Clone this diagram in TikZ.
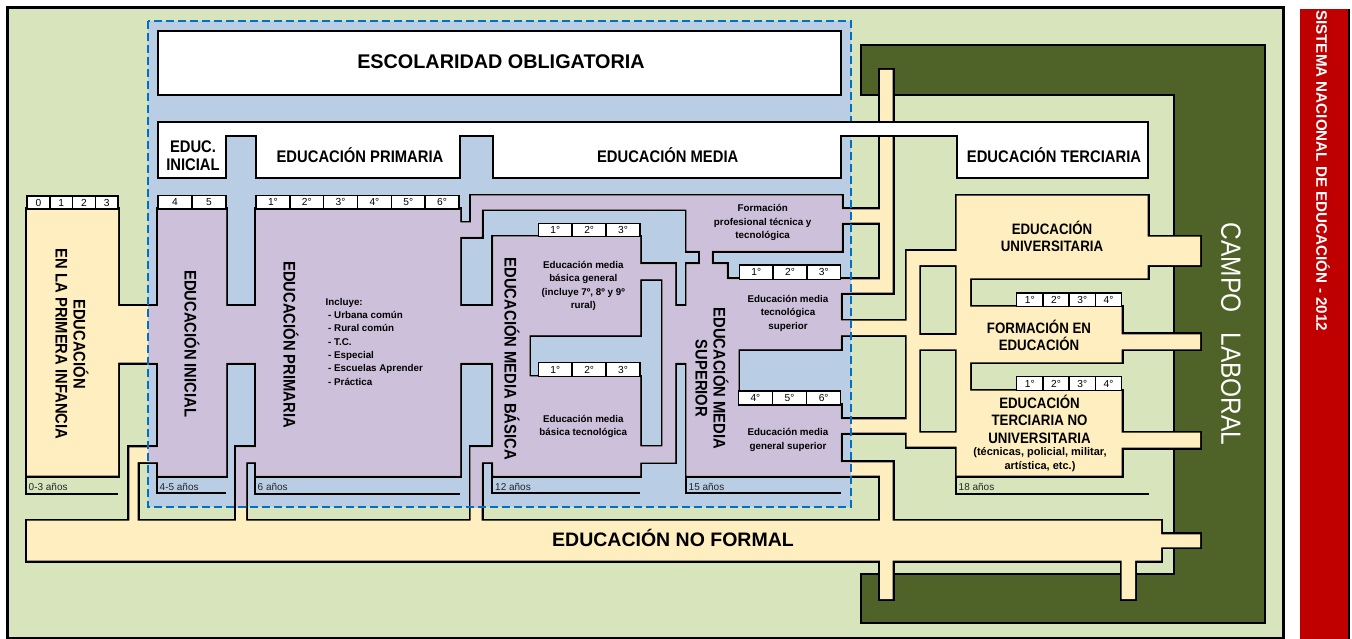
\documentclass[tikz,border=0pt]{standalone}
\usepackage{fontspec}
\usepackage{graphicx}
\setmainfont{Liberation Sans}
\newfontfamily\narrowsans[FakeStretch=0.88]{Liberation Sans}
\definecolor{bggreen}{HTML}{D8E4BC}
\definecolor{blu}{HTML}{B9CDE5}
\definecolor{purp}{HTML}{CCC0DA}
\definecolor{yel}{HTML}{FFEFC0}
\definecolor{dgreen}{HTML}{4F6228}
\definecolor{redbar}{HTML}{C00000}
\definecolor{dashblue}{HTML}{0070C0}
\newcommand\unionshape{%
 (27,209) rectangle (118,475.7)
 (118,306) rectangle (256,362.5)
 (158,209) rectangle (226,475.7)
 (129.3,447.3) rectangle (158,462)
 (129.3,447.3) rectangle (137.7,520.7)
 (256,209) rectangle (460,475.7)
 (236,447.3) rectangle (256,462)
 (236,447.3) rectangle (246,520.7)
 (459,222.7) rectangle (481.7,236.7)
 (471,195.7) rectangle (481.7,236.7)
 (471,195.7) rectangle (841.7,209.3)
 (460,306) rectangle (493.3,362.5)
 (493.3,236.7) rectangle (529.3,475.7)
 (493.3,236.7) rectangle (640,335)
 (493.3,376.7) rectangle (640,475.7)
 (640,264.3) rectangle (675,279)
 (662.7,264.3) rectangle (675,462.3)
 (640,446.7) rectangle (675,462.3)
 (470.7,447.3) rectangle (493.3,462)
 (470.7,447.3) rectangle (481.7,520.7)
 (675,306) rectangle (686.7,362.5)
 (686.7,209.3) rectangle (841.7,250.7)
 (700,250.7) rectangle (711.7,264.3)
 (686.7,264.3) rectangle (726.7,279.3)
 (686.7,279.3) rectangle (840.7,349)
 (686.7,349) rectangle (738.3,405)
 (686.7,405) rectangle (840.7,475.7)
 (841.7,209.3) rectangle (880,222.7)
 (880,70) rectangle (892.7,292.7)
 (840.7,279.3) rectangle (880,292.7)
 (840.7,320.7) rectangle (906.7,335)
 (840.7,419.3) rectangle (906.7,432.7)
 (840.7,462.3) rectangle (892.7,475.7)
 (880,462.3) rectangle (892.7,599)
 (27,520.7) rectangle (1161,560.7)
 (1161,534.3) rectangle (1200,547.3)
 (1121.7,560.7) rectangle (1135,599)
 (956.7,195.7) rectangle (1147.7,278.3)
 (1147.7,236.7) rectangle (1200,265)
 (956.7,278.3) rectangle (970,475.7)
 (956.7,306.7) rectangle (1121.7,362.3)
 (1121.7,334.3) rectangle (1200,349.3)
 (956.7,390.7) rectangle (1121.7,475.7)
 (1121.7,432.7) rectangle (1200,447.7)
 (906.7,251) rectangle (919.3,446.7)
 (906.7,251) rectangle (956.7,265)
 (919.3,335) rectangle (956.7,349.3)
 (906.7,432.7) rectangle (956.7,446.7)
}
% #1 name, #2 n, #3 x0, #4 x1, #5 y0, #6 y1, #7 labels
\newcommand\gradesrow[7]{%
  \foreach \lab [count=\i] in {#7} {
    \pgfmathsetmacro\xa{#3+(#4-#3)*(\i-1)/#2}
    \pgfmathsetmacro\xb{#3+(#4-#3)*\i/#2}
    \draw[gbox] (\xa,#5) rectangle (\xb,#6);
    \node[grade] (#1\i) at ({(\xa+\xb)/2},{(#5+#6)/2}) {\lab};
  }
}
\begin{document}
\begin{tikzpicture}[x=1pt,y=-1pt,
  outl/.style={draw=black,line width=2pt,line join=miter},
  gbox/.style={fill=white,draw=black,line width=1.5pt},
  grade/.style={font=\fontsize{10.2}{11}\selectfont,inner sep=0pt},
  lab/.style={font=\narrowsans\bfseries\fontsize{16.8}{18}\selectfont,inner sep=0pt,align=center},
  ter/.style={font=\narrowsans\bfseries\fontsize{15.1}{16.9}\selectfont,inner sep=0pt,align=center},
  sm/.style={font=\bfseries\fontsize{9.8}{13.3}\selectfont,inner sep=0pt,align=center},
  anos/.style={font=\fontsize{10}{11}\selectfont,text=black!85,inner sep=0pt,anchor=west}]
\useasboundingbox (0,0) rectangle (1352,639);
\fill[white] (0,0) rectangle (1352,639);
\fill[bggreen] (7.5,7.5) rectangle (1283.7,638);
\fill[blu] (148,21) rectangle (851,507);
% campo laboral frame
\draw[outl,fill=dgreen] (860.7,45.3) -- (1265,45.3) -- (1265,622.7) -- (860.7,622.7) -- (860.7,574) -- (1174,574) -- (1174,95) -- (860.7,95) -- cycle;
% system shapes (union outline)
\draw[line width=4pt,line join=miter] \unionshape;
\fill[yel] \unionshape;
\begin{scope}
  \clip (148,21) rectangle (851,507);
  \fill[purp] \unionshape;
\end{scope}
% dashed compulsory schooling frame
\draw[dashblue,line width=2.5pt,dash pattern=on 8pt off 4pt] (148,21) rectangle (851,507);
% white boxes
\draw[outl,fill=white] (158,31) rectangle (841,95);
\draw[outl,fill=white] (158,122) -- (1148,122) -- (1148,178) -- (957,178) -- (957,136) -- (841,136) -- (841,178) -- (493,178) -- (493,136) -- (460,136) -- (460,178) -- (256,178) -- (256,136) -- (226,136) -- (226,178) -- (158,178) -- cycle;
% age strips
\draw[outl] (26,475.7) -- (26,494) -- (118,494);
\draw[outl] (157,475.7) -- (157,493.3) -- (226,493.3);
\draw[outl] (255,475.7) -- (255,494) -- (460,494);
\draw[outl] (492.3,475.7) -- (492.3,493.3) -- (640,493.3);
\draw[outl] (685.7,475.7) -- (685.7,493.3) -- (840.7,493.3);
\draw[outl] (955.7,475.7) -- (955.7,494) -- (1149,494);
\node[anos] (a03) at (28.5,486.5) {0-3 años};
\node[anos] (a45) at (159.5,486.5) {4-5 años};
\node[anos] (a6) at (257.5,486.5) {6 años};
\node[anos] (a12) at (495,486.5) {12 años};
\node[anos] (a15) at (688.5,486.5) {15 años};
\node[anos] (a18) at (958.5,486.5) {18 años};
% grade rows
\gradesrow{pi}{4}{27}{118}{196}{209}{0,1,2,3}
\gradesrow{in}{2}{158}{226}{195.7}{209}{4,5}
\gradesrow{pr}{6}{256}{459}{195.7}{209}{1°,2°,3°,4°,5°,6°}
\gradesrow{mbg}{3}{538.3}{640}{223.3}{236.7}{1°,2°,3°}
\gradesrow{mbt}{3}{538.3}{640}{362.7}{376.7}{1°,2°,3°}
\gradesrow{mst}{3}{739.3}{840.7}{265}{279.3}{1°,2°,3°}
\gradesrow{msg}{3}{738.3}{840.7}{391}{405}{4°,5°,6°}
\gradesrow{fe}{4}{1016.7}{1121.7}{293}{306.7}{1°,2°,3°,4°}
\gradesrow{tn}{4}{1016.7}{1121.7}{376.7}{390.7}{1°,2°,3°,4°}
% headings
\node[font=\bfseries\fontsize{19.8}{22}\selectfont,inner sep=0pt,anchor=base] (escol) at (501,69) {ESCOLARIDAD OBLIGATORIA};
\node[lab] (educini) at (193,156.2) {EDUC.\\INICIAL};
\node[lab,anchor=base] (tprim) at (360,162.3) {EDUCACIÓN PRIMARIA};
\node[lab,anchor=base] (tmed) at (667.7,162.3) {EDUCACIÓN MEDIA};
\node[lab,anchor=base] (tter) at (1054,162.3) {EDUCACIÓN TERCIARIA};
% vertical labels
\node[lab,rotate=-90] (vpi) at (72,344) {EDUCACIÓN\\EN LA PRIMERA INFANCIA};
\node[lab,rotate=-90] (vini) at (192,343.7) {EDUCACIÓN INICIAL};
\node[lab,rotate=-90] (vprim) at (291,344.7) {EDUCACIÓN PRIMARIA};
\node[lab,rotate=-90] (vmb) at (512,358.8) {EDUCACIÓN MEDIA BÁSICA};
\node[lab,rotate=-90] (vms) at (712,378.4) {EDUCACIÓN MEDIA\\SUPERIOR};
% small texts
\node[sm,align=left,anchor=west] (incl) at (325.5,341.7) {Incluye:\\\hspace*{2.5pt}- Urbana común\\\hspace*{2.5pt}- Rural común\\\hspace*{2.5pt}- T.C.\\\hspace*{2.5pt}- Especial\\\hspace*{2.5pt}- Escuelas Aprender\\\hspace*{2.5pt}- Práctica};
\node[sm] (mbgen) at (583.3,286) {Educación media\\básica general\\(incluye 7º, 8º y 9º\\rural)};
\node[sm] (mbtec) at (583.3,426.3) {Educación media\\básica tecnológica};
\node[sm] (fprof) at (762.7,222.6) {Formación\\profesional técnica y\\tecnológica};
\node[sm] (mstec) at (788,313.3) {Educación media\\tecnológica\\superior};
\node[sm] (msgen) at (788,440) {Educación media\\general superior};
% tertiary
\node[ter] (univ) at (1052,236.7) {EDUCACIÓN\\UNIVERSITARIA};
\node[ter] (fe) at (1039,335) {FORMACIÓN EN\\EDUCACIÓN};
\node[ter,font=\narrowsans\bfseries\fontsize{15.1}{17.5}\selectfont] (tnu) at (1039.5,419) {EDUCACIÓN\\TERCIARIA NO\\UNIVERSITARIA};
\node[sm,font=\bfseries\fontsize{11}{14}\selectfont] (tnu2) at (1040,459.7) {(técnicas, policial, militar,\\artística, etc.)};
% non formal
\node[font=\bfseries\fontsize{19.5}{22}\selectfont,inner sep=0pt,anchor=base] (nf) at (673,546.7) {EDUCACIÓN NO FORMAL};
% campo laboral
\node[font=\narrowsans\fontsize{27.8}{30}\selectfont,text=white,rotate=-90,inner sep=0pt] (campo) at (1231,334) {CAMPO\hspace{20pt}LABORAL};
% outer frame
\draw[line width=3pt] (7.5,7.5) rectangle (1283.7,638);
% red side bar
\fill[redbar] (1300,9) rectangle (1348,639);
\draw[line width=2.3pt] (1349,9) -- (1349,639);
\node[font=\bfseries\fontsize{15.2}{18}\selectfont,text=white,rotate=-90,anchor=west,inner sep=0pt] (sne) at (1323,10) {SISTEMA NACIONAL DE EDUCACIÓN - 2012};
\end{tikzpicture}
\end{document}
